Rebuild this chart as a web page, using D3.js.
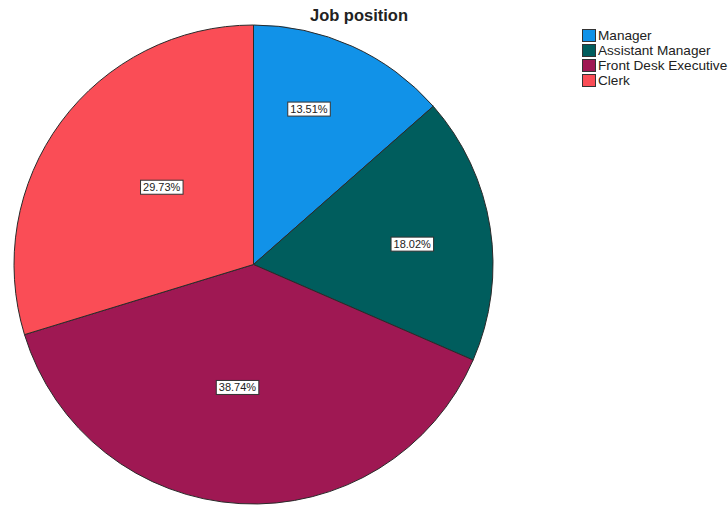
<!DOCTYPE html>
<html>
<head>
<meta charset="utf-8">
<script src="https://cdn.jsdelivr.net/npm/d3@7"></script>
<style>
  html, body { margin: 0; padding: 0; background: #fff; }
  svg { display: block; font-family: "Liberation Sans", Arial, sans-serif; }
</style>
</head>
<body>
<svg id="chart" width="728" height="506"></svg>
<script>
// Job position counts (n = 111)
const categories = ["Manager", "Assistant Manager", "Front Desk Executive", "Clerk"];
const counts = [15, 20, 43, 33];
const percentLabels = ["13.51%", "18.02%", "38.74%", "29.73%"];
const colors = ["#1192e8", "#005d5d", "#9f1853", "#fa4d56"];

// Label placement: distance from centre and angular nudge (degrees) per slice
const labelRadius = [165, 160, 124, 120];
const labelNudge = [-4.7, 1.6, 4.2, 3.6];

const width = 728, height = 506;
const cx = 253.5, cy = 264.5, radius = 239.5;

const svg = d3.select("#chart");

const pie = d3.pie().value(d => d).sort(null);
const arcs = pie(counts);
const arc = d3.arc().innerRadius(0).outerRadius(radius);

const g = svg.append("g").attr("transform", `translate(${cx},${cy})`);

g.selectAll("path.slice")
  .data(arcs)
  .join("path")
  .attr("class", "slice")
  .attr("d", arc)
  .attr("fill", (d, i) => colors[i])
  .attr("stroke", "#2a2a2a")
  .attr("stroke-width", 1)
  .attr("stroke-linejoin", "round");

// Percentage labels in white boxes
const labels = g.selectAll("g.lbl")
  .data(arcs)
  .join("g")
  .attr("class", "lbl")
  .attr("transform", (d, i) => {
    const a = (d.startAngle + d.endAngle) / 2 + labelNudge[i] * Math.PI / 180;
    const r = labelRadius[i];
    return `translate(${r * Math.sin(a)},${-r * Math.cos(a)})`;
  });

labels.each(function(d, i) {
  const sel = d3.select(this);
  const t = sel.append("text")
    .attr("text-anchor", "middle")
    .attr("dy", "0.36em")
    .attr("font-size", 11)
    .attr("fill", "#222")
    .text(percentLabels[i]);
  const bb = t.node().getBBox();
  sel.insert("rect", "text")
    .attr("x", bb.x - 2.5)
    .attr("y", -7)
    .attr("width", bb.width + 5)
    .attr("height", 14)
    .attr("fill", "#fff")
    .attr("stroke", "#333")
    .attr("stroke-width", 1);
});

// Title
svg.append("text")
  .attr("x", 359)
  .attr("y", 21)
  .attr("text-anchor", "middle")
  .attr("font-size", 16.5)
  .attr("font-weight", "bold")
  .attr("fill", "#222")
  .text("Job position");

// Legend
const legend = svg.append("g").attr("transform", "translate(582,29)");
const rowStep = 15;
const items = legend.selectAll("g.item")
  .data(categories)
  .join("g")
  .attr("class", "item")
  .attr("transform", (d, i) => `translate(0,${i * rowStep})`);

items.append("rect")
  .attr("x", 0.5)
  .attr("y", 0.5)
  .attr("width", 13)
  .attr("height", 12)
  .attr("fill", (d, i) => colors[i])
  .attr("stroke", "#333")
  .attr("stroke-width", 1);

items.append("text")
  .attr("x", 16)
  .attr("y", 6.5)
  .attr("dy", "0.36em")
  .attr("font-size", 13.6)
  .attr("fill", "#222")
  .text(d => d);
</script>
</body>
</html>
